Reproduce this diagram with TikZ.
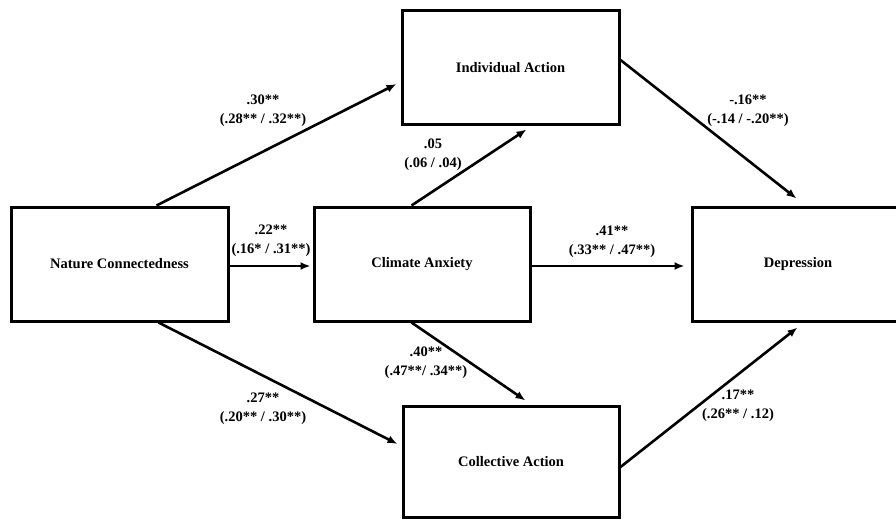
\documentclass[tikz,border=0pt]{standalone}
\usepackage{fontspec}
\setmainfont{Liberation Serif}
\usetikzlibrary{arrows.meta,calc}
\begin{document}
\begin{tikzpicture}[x=1pt,y=-1pt,
  box/.style={draw=black,line width=3pt,rectangle,inner sep=0pt,font=\fontsize{14.5}{19}\selectfont\bfseries},
  conn/.style={line width=2.6pt,-{Latex[length=10pt,width=8pt]}},
  lab/.style={align=center,inner sep=0pt,font=\fontsize{14.5}{19}\selectfont\bfseries}]
\useasboundingbox (0,0) rectangle (896,519);
\fill[white] (0,0) rectangle (896,519);
% boxes
\node[box,minimum width=217pt,minimum height=113pt] (ia) at (510.5,67.5) {Individual Action};
\node[box,minimum width=217pt,minimum height=114pt] (nc) at (119.5,264) {Nature Connectedness};
\node[box,minimum width=216pt,minimum height=114pt] (ca) at (422,264) {Climate Anxiety};
\node[box,minimum width=212pt,minimum height=114pt] (dep) at (798,264) {Depression};
\node[box,minimum width=216pt,minimum height=111pt] (co) at (511,461.5) {Collective Action};
% connectors
\draw[conn] ($(nc.north west)+(147,0)$) -- ($(ia.west)+(-4,16.5)$);
\draw[conn] ($(nc.east)+(0,2)$) -- ($(ca.west)+(-2,2)$);
\draw[conn] ($(nc.south west)+(149,0)$) -- ($(co.west)+(-4,-17.5)$);
\draw[conn] ($(ca.north west)+(99,0)$) -- ($(ia.south west)+(126,4)$);
\draw[conn] ($(ca.east)+(0,2)$) -- ($(dep.west)+(-6,2)$);
\draw[conn] ($(ca.south west)+(99,0)$) -- ($(co.north west)+(124,-4)$);
\draw[conn] ($(ia.east)+(0,-7.5)$) -- ($(dep.north west)+(106,-7)$);
\draw[conn] ($(co.east)+(0,5.5)$) -- ($(dep.south west)+(107,5)$);
% labels
\node[lab] (l1) at (263,110.5) {.30**\\(.28** / .32**)};
\node[lab] (l2) at (271,241) {.22**\\(.16* / .31**)};
\node[lab] (l3) at (433,154.5) {.05\\(.06 / .04)};
\node[lab] (l4) at (612,242) {.41**\\(.33** / .47**)};
\node[lab] (l5) at (748,111) {-.16**\\(-.14 / -.20**)};
\node[lab] (l6) at (426,363) {.40**\\(.47**/ .34**)};
\node[lab] (l7) at (263,409) {.27**\\(.20** / .30**)};
\node[lab] (l8) at (738,406) {.17**\\(.26** / .12)};
\end{tikzpicture}
\end{document}
